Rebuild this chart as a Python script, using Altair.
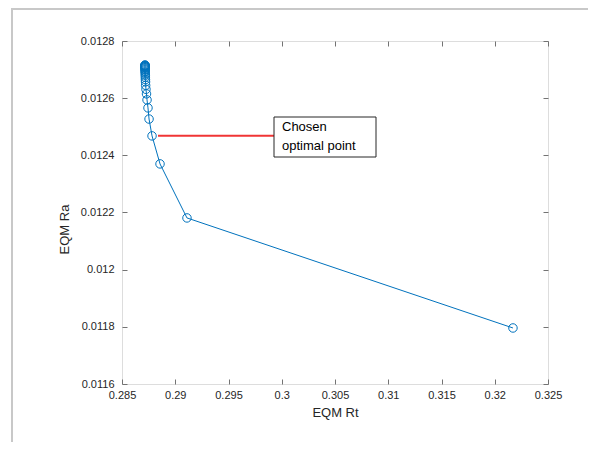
import altair as alt
import pandas as pd

# ---- data ----
eqm_rt = [0.32171, 0.29110, 0.28857, 0.28782, 0.28754, 0.28744, 0.28735, 0.28730,
          0.28725, 0.28722, 0.28721, 0.28720, 0.28719, 0.28719, 0.28718, 0.28718,
          0.28717, 0.28717, 0.28717, 0.28716, 0.28716, 0.28716, 0.28716, 0.28716,
          0.28716, 0.28716, 0.28716, 0.28716]
eqm_ra = [0.011796, 0.012181, 0.012370, 0.012468, 0.012527, 0.012566, 0.012594, 0.012615,
          0.012631, 0.012645, 0.012657, 0.012665, 0.012673, 0.012680, 0.012685, 0.012690,
          0.012694, 0.012698, 0.012701, 0.012704, 0.012707, 0.012709, 0.012710, 0.012712,
          0.012713, 0.012714, 0.012715, 0.012716]
x_ticks = [0.285, 0.29, 0.295, 0.3, 0.305, 0.31, 0.315, 0.32, 0.325]
y_ticks = [0.0116, 0.0118, 0.012, 0.0122, 0.0124, 0.0126, 0.0128]
annotation_lines = ["Chosen", "optimal point"]

df = pd.DataFrame({"rt": eqm_rt, "ra": eqm_ra, "order": list(range(len(eqm_rt)))})

W, H = 426, 343
BLUE = "#0072BD"
AX = "#262626"
BOX = "#737373"
FONT = "Liberation Sans"

xscale = alt.Scale(domain=[0.285, 0.325], nice=False, zero=False)
yscale = alt.Scale(domain=[0.0116, 0.0128], nice=False, zero=False)

common_axis = dict(grid=False, domain=False, tickSize=5, offset=-5, tickColor=BOX,
                   labelFont=FONT, labelColor=AX, labelFontSize=11, labelFlush=False,
                   titleFont=FONT, titleColor=AX, titleFontWeight="normal", titleFontSize=13)

x_bottom = alt.X("rt:Q", scale=xscale, title="EQM Rt",
                 axis=alt.Axis(values=x_ticks, format="~g", orient="bottom",
                               labelPadding=5, titlePadding=6, **common_axis))
y_left = alt.Y("ra:Q", scale=yscale, title="EQM Ra",
               axis=alt.Axis(values=y_ticks, format="~g", orient="left",
                             labelPadding=8, titlePadding=9, titleY=188, **common_axis))
x_top = alt.X("rt:Q", scale=xscale, title=None,
              axis=alt.Axis(values=x_ticks, orient="top", labels=False, **common_axis))
y_right = alt.Y("ra:Q", scale=yscale, title=None,
                axis=alt.Axis(values=y_ticks, orient="right", labels=False, **common_axis))

line = alt.Chart(df).mark_line(color=BLUE, strokeWidth=1).encode(
    x=x_bottom, y=y_left, order="order:Q")
points = alt.Chart(df).mark_point(shape="circle", filled=False, color=BLUE,
                                  size=72, strokeWidth=1, opacity=1).encode(
    x=x_top, y=y_right)

# annotation (figure-coordinate, like MATLAB's annotation textbox)
ann_df = pd.DataFrame({"k": [0]})
red = alt.Chart(ann_df).mark_rule(color="#F03535", strokeWidth=2).encode(
    x=alt.value(36), x2=alt.value(152), y=alt.value(94.7))
box = alt.Chart(ann_df).mark_rect(fill="white", stroke="#262626", strokeWidth=1).encode(
    x=alt.value(152), x2=alt.value(254), y=alt.value(76), y2=alt.value(116))
texts = [
    alt.Chart(pd.DataFrame({"t": [s]})).mark_text(
        align="left", baseline="middle", font=FONT, fontSize=13, color="black"
    ).encode(text="t:N", x=alt.value(160), y=alt.value(86 + 19 * i))
    for i, s in enumerate(annotation_lines)
]

# outer gray frame of the screenshot
frame_top = alt.Chart(ann_df).mark_rule(color="#c8c8c8", strokeWidth=2).encode(
    x=alt.value(-111), x2=alt.value(W + 60), y=alt.value(-32))
frame_left = alt.Chart(ann_df).mark_rule(color="#c8c8c8", strokeWidth=2).encode(
    x=alt.value(-110), y=alt.value(-32), y2=alt.value(H + 70))

chart = alt.layer(frame_top, frame_left, line, points, red, box, *texts).resolve_axis(
    x="independent", y="independent"
).properties(
    width=W, height=H,
    autosize=alt.AutoSizeParams(type="none"),
    padding={"left": 114, "top": 33, "right": 40, "bottom": 58},
).configure_view(stroke=BOX, strokeWidth=1).configure(background="white")

chart.save("out.html", embed_options={"renderer": "svg", "actions": False})
